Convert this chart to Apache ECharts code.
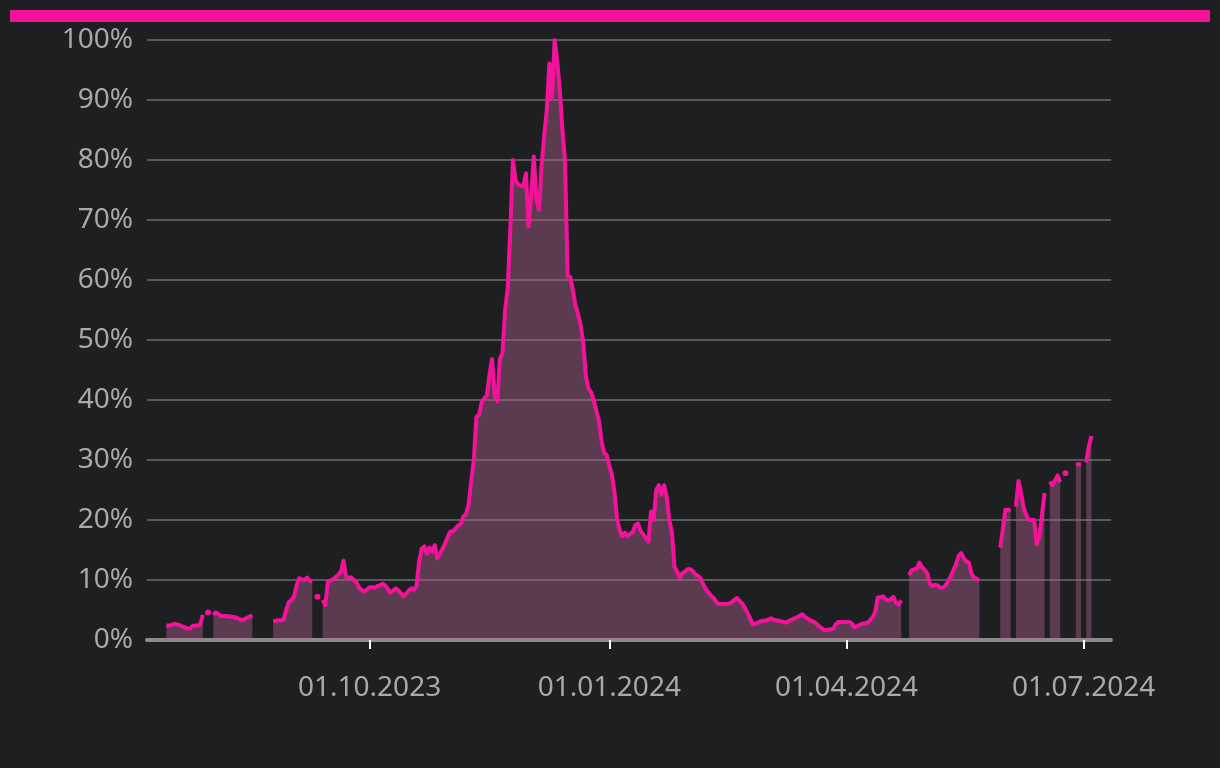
<!DOCTYPE html>
<html>
<head>
<meta charset="utf-8">
<script src="https://cdn.jsdelivr.net/npm/echarts@6/dist/echarts.min.js"></script>
<style>
  html, body { margin: 0; padding: 0; background: #1e1f21; }
  #chart { width: 1220px; height: 768px; }
</style>
</head>
<body>
<div id="chart"></div>
<script>
// Daily values (%) starting at startDate; null = no data that day
const startDate = [2023, 6, 15]; // 15 July 2023 (month is 0-based)

const jul2023 = [2.4, 2.4, 2.5, 2.7, 2.6, 2.5, 2.3, 2.1, 1.9, 1.9, 2.3, 2.4, 2.4, 2.6, 4.2, null, 4.6];
const aug2023 = [null, 4.2, 4.6, 4.3, 4.0, 4.0, 4.0, 3.9, 3.9, 3.8, 3.7, 3.5, 3.3, 3.5, 3.7, 3.9, 4.1,
  null, null, null, null, null, null, null, 3.1, 3.2, 3.3, 3.3, 3.4, 5.0, 6.3];
const sep2023 = [6.6, 7.3, 9.1, 10.3, 10.1, 10.0, 10.4, 9.9, 9.7, null, 7.2, null,
  6.7, 5.8, 9.7, 9.9, 10.1, 10.5, 10.9, 11.4, 13.2, 10.5, 10.4, 10.4, 10.0, 9.6, 8.7, 8.3, 8.1, 8.4];
const oct2023 = [8.8, 8.8, 8.7, 9.0, 9.1, 9.4, 9.1, 8.5, 7.9, 8.2, 8.6, 8.3, 7.8, 7.3, 7.7, 8.2, 8.6, 8.4,
  9.0, 13.0, 15.2, 15.6, 14.4, 15.4, 14.7, 15.8, 13.6, 14.4, 15.2, 16.1, 17.2];
const nov2023 = [18.1, 18.1, 18.6, 19.1, 19.3, 20.6, 21.0, 22.5, 26.5, 30.0, 37.2, 37.5, 39.6, 40.3, 40.8,
  44.2, 46.8, 40.6, 39.8, 46.9, 47.8, 55.0, 58.6, 68.5, 80.0, 76.7, 75.9, 75.7, 75.6, 77.8];
const dec2023 = [68.9, 74.0, 80.6, 73.5, 71.7, 79.0, 84.0, 88.3, 96.1, 90.3, 100, 96.5, 91.5, 85.0, 79.7,
  60.6, 60.5, 58.3, 55.8, 54.3, 52.5, 49.5, 44.0, 41.9, 41.3, 40.0, 38.2, 36.6, 33.2, 31.2, 30.8];
const jan2024 = [29.0, 27.6, 24.5, 20.0, 18.3, 17.3, 17.9, 17.3, 17.7, 18.0, 19.2, 19.4, 18.2, 17.6, 17.0,
  16.4, 21.4, 20.0, 25.0, 25.8, 24.2, 25.8, 23.9, 20.0, 18.0, 12.2, 11.4, 10.4, 11.1, 11.4, 11.8];
const feb2024 = [11.8, 11.5, 10.9, 10.7, 10.3, 9.3, 8.5, 7.9, 7.4, 7.0, 6.4, 6.0, 6.0, 6.0, 6.0, 6.1, 6.3,
  6.7, 7.0, 6.5, 6.1, 5.4, 4.5, 3.6, 2.6, 2.7, 2.9, 3.1, 3.2];
const mar2024 = [3.2, 3.4, 3.6, 3.4, 3.3, 3.2, 3.1, 3.0, 2.9, 3.2, 3.4, 3.6, 3.8, 4.0, 4.3, 3.9, 3.6, 3.3,
  3.1, 2.9, 2.5, 2.1, 1.8, 1.6, 1.7, 1.8, 1.9, 2.7, 3.0, 3.0, 3.0];
const apr2024 = [3.0, 3.0, 2.8, 2.1, 2.3, 2.5, 2.7, 2.8, 2.8, 3.3, 3.8, 4.6, 7.1, 7.1, 7.3, 6.8, 6.6, 6.8,
  7.2, 6.2, 5.9, 6.6, null, null, 10.8, 11.6, 11.8, 11.9, 12.9, 12.1];
const may2024 = [11.7, 11.1, 9.4, 9.0, 9.2, 9.1, 8.7, 8.7, 9.1, 9.8, 10.6, 11.6, 12.6, 14.0, 14.5, 13.6,
  13.1, 12.9, 11.0, 10.4, 10.2, 9.9, null, null, null, null, null, null, null, 15.4, 18.5];
const jun2024 = [21.7, 21.7, 21.7, null, 22.2, 26.5, 24.5, 22.0, 20.8, 20.0, 20.0, 20.0, 16.0, 17.2, 20.8,
  24.5, null, 26.4, 25.8, 26.6, 27.4, 26.3, null, 27.8, null, null, null, 29.3, 29.3, 29.3];
const jul2024 = [null, 29.6, 32.3, 34.0];

const tickLabels = ['01.10.2023', '01.01.2024', '01.04.2024', '01.07.2024'];
const yTickLabels = ['0%', '10%', '20%', '30%', '40%', '50%', '60%', '70%', '80%', '90%', '100%'];

const values = [].concat(jul2023, aug2023, sep2023, oct2023, nov2023, dec2023,
  jan2024, feb2024, mar2024, apr2024, may2024, jun2024, jul2024);

const PINK = '#f5129b';

function dayTs(i) {
  return new Date(startDate[0], startDate[1], startDate[2] + i).getTime();
}
function parseLabel(s) {
  const p = s.split('.');
  return new Date(+p[2], +p[1] - 1, +p[0]).getTime();
}
const tickTs = tickLabels.map(parseLabel);

const data = values.map((v, i) => {
  const prev = i > 0 ? values[i - 1] : null;
  const next = i < values.length - 1 ? values[i + 1] : null;
  const item = { value: [dayTs(i), v] };
  if (v !== null && prev === null && next === null) {
    item.symbol = 'circle';
    item.symbolSize = 6;
  }
  return item;
});

const chart = echarts.init(document.getElementById('chart'), null, { renderer: 'canvas' });
chart.setOption({
  backgroundColor: '#1e1f21',
  animation: false,
  graphic: [{
    type: 'rect',
    shape: { x: 10, y: 10, width: 1200, height: 12 },
    style: { fill: PINK }
  }],
  grid: { left: 147, right: 109, top: 40, bottom: 128, containLabel: false },
  xAxis: {
    type: 'value',
    min: new Date(2023, 6, 7, 14).getTime(),
    max: new Date(2024, 6, 11, 12).getTime(),
    axisLine: { show: true, lineStyle: { color: '#8c8c8c', width: 4 } },
    axisTick: { show: true, customValues: tickTs, length: 9, lineStyle: { color: '#ffffff', width: 2 } },
    axisLabel: {
      customValues: tickTs,
      formatter: (v) => {
        const idx = tickTs.indexOf(v);
        return idx >= 0 ? tickLabels[idx] : '';
      },
      color: '#a9a9a9', fontSize: 28, margin: 34, fontFamily: 'Noto Sans'
    },
    splitLine: { show: false }
  },
  yAxis: {
    type: 'value',
    min: 0, max: 100, interval: 10,
    axisLine: { show: false },
    axisTick: { show: false },
    axisLabel: {
      formatter: (v) => yTickLabels[Math.round(v / 10)],
      color: '#a9a9a9', fontSize: 28, margin: 14, fontFamily: 'Noto Sans'
    },
    splitLine: { show: true, lineStyle: { color: '#585858', width: 2 } }
  },
  series: [{
    type: 'line',
    data: data,
    connectNulls: false,
    showSymbol: true,
    showAllSymbol: true,
    symbol: 'none',
    itemStyle: { color: PINK },
    lineStyle: { color: PINK, width: 4, join: 'round' },
    areaStyle: { color: 'rgba(185,101,150,0.4)', opacity: 1 },
    emphasis: { disabled: true }
  }]
});
</script>
</body>
</html>
